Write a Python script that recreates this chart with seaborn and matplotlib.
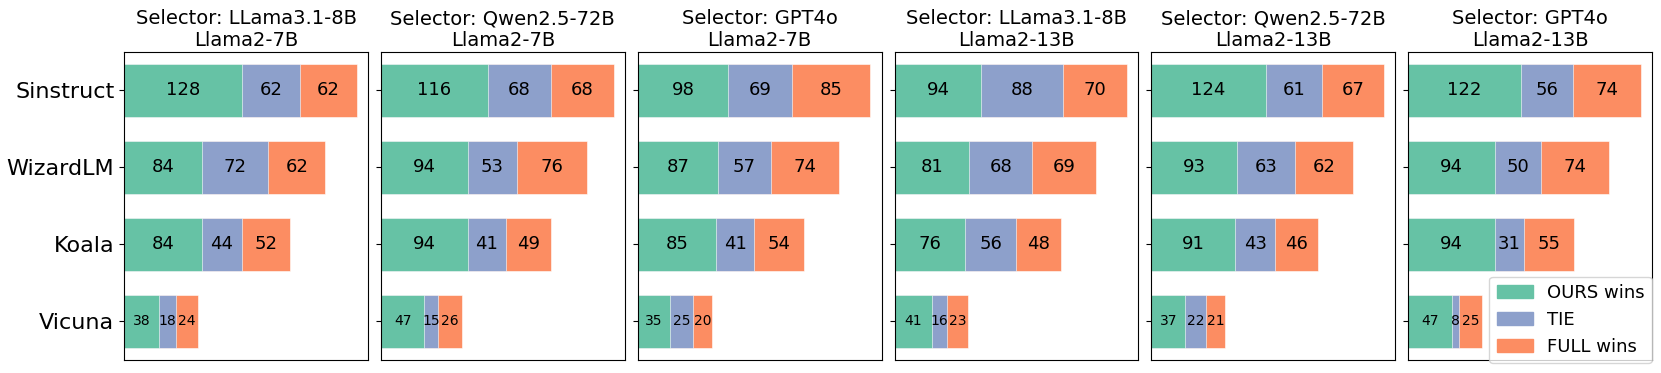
import numpy as np
import pandas as pd
import seaborn as sns
import matplotlib.pyplot as plt
from matplotlib.patches import Patch


# categories and legend names
datasets = ['Sinstruct', 'WizardLM', 'Koala', 'Vicuna']
outcomes = ['OURS wins', 'TIE', 'FULL wins']

# panel titles: selector / base model
selectors = ['LLama3.1-8B', 'Qwen2.5-72B', 'GPT4o', 'LLama3.1-8B', 'Qwen2.5-72B', 'GPT4o']
base_models = ['Llama2-7B', 'Llama2-7B', 'Llama2-7B', 'Llama2-13B', 'Llama2-13B', 'Llama2-13B']

# counts per panel, rows follow datasets, columns follow outcomes
llama8b_7b = [[128, 62, 62], [84, 72, 62], [84, 44, 52], [38, 18, 24]]
qwen72b_7b = [[116, 68, 68], [94, 53, 76], [94, 41, 49], [47, 15, 26]]
gpt4o_7b = [[98, 69, 85], [87, 57, 74], [85, 41, 54], [35, 25, 20]]
llama8b_13b = [[94, 88, 70], [81, 68, 69], [76, 56, 48], [41, 16, 23]]
qwen72b_13b = [[124, 61, 67], [93, 63, 62], [91, 43, 46], [37, 22, 21]]
gpt4o_13b = [[122, 56, 74], [94, 50, 74], [94, 31, 55], [47, 8, 25]]

panels = [llama8b_7b, qwen72b_7b, gpt4o_7b, llama8b_13b, qwen72b_13b, gpt4o_13b]

colors = sns.color_palette('Set2', 3)
colors = [colors[0], colors[2], colors[1]]

fig, axes = plt.subplots(1, 6, figsize=(16.61, 3.73), dpi=100)
fig.subplots_adjust(left=0.0747, right=0.9946, top=0.8606, bottom=0.0349, wspace=0.053)

xmax = max(sum(row) for p in panels for row in p) * 1.048

for k, ax in enumerate(axes):
    df = pd.DataFrame(panels[k], columns=outcomes)
    df['dataset'] = datasets
    cum = df[outcomes].cumsum(axis=1)

    # stacked bars: draw the cumulative totals from widest to narrowest
    for j in reversed(range(3)):
        sns.barplot(x=cum[outcomes[j]], y=df['dataset'], color=colors[j],
                    width=0.7, orient='h', ax=ax, saturation=1,
                    edgecolor='white', linewidth=0.4)

    # counts in the middle of each segment
    for i in range(len(datasets)):
        left = 0
        for j in range(3):
            w = df[outcomes[j]].iloc[i]
            fs = 10 if datasets[i] == 'Vicuna' else 13
            ax.text(left + w / 2, i, str(w), ha='center', va='center', fontsize=fs)
            left += w

    ax.set_xlim(0, xmax)
    ax.set_xlabel('')
    ax.set_ylabel('')
    ax.set_xticks([])
    ax.set_title('Selector: ' + selectors[k] + '\n' + base_models[k], fontsize=14, pad=4)
    if k == 0:
        ax.tick_params(axis='y', labelsize=16)
    else:
        ax.tick_params(axis='y', labelleft=False)

handles = [Patch(color=colors[j], label=outcomes[j]) for j in range(3)]
axes[-1].legend(handles=handles, loc='lower right', bbox_to_anchor=(1.0, -0.01),
                borderaxespad=0, fontsize=13)

plt.savefig('out.png')
